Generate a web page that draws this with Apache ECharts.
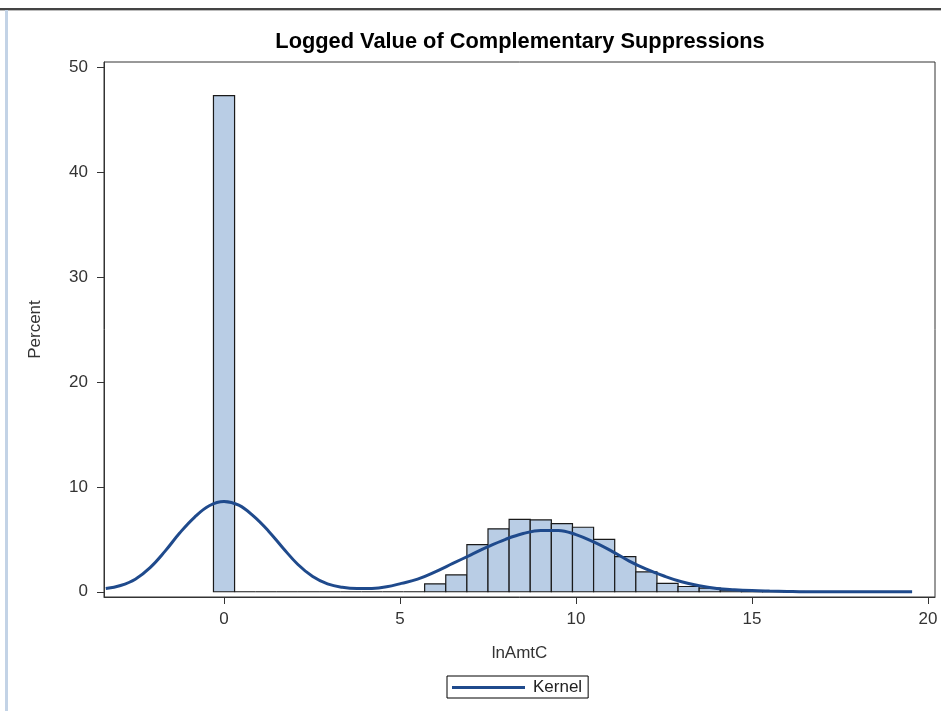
<!DOCTYPE html>
<html>
<head>
<meta charset="utf-8">
<script src="https://cdn.jsdelivr.net/npm/echarts@6/dist/echarts.min.js"></script>
<style>
html,body{margin:0;padding:0;background:#fff;}
#chart{width:941px;height:711px;}
</style>
</head>
<body>
<div id="chart"></div>
<script>
// ---- data ----
const titleText = 'Logged Value of Complementary Suppressions';
const xAxisName = 'lnAmtC';
const yAxisName = 'Percent';
const binWidth = 0.6;
const binCenters = [0, 0.6, 1.2, 1.8, 2.4, 3.0, 3.6, 4.2, 4.8, 5.4, 6.0, 6.6, 7.2, 7.8, 8.4, 9.0, 9.6, 10.2, 10.8, 11.4, 12.0, 12.6, 13.2, 13.8, 14.4, 15.0, 15.6, 16.2, 16.8, 17.4, 18.0, 18.6, 19.2];
const binPercents = [47.3, 0, 0, 0, 0, 0, 0, 0, 0, 0, 0.76, 1.6, 4.5, 6.0, 6.9, 6.85, 6.5, 6.15, 5.0, 3.35, 1.9, 0.8, 0.5, 0.35, 0.15, 0.08, 0.05, 0.02, 0, 0, 0, 0, 0];
const kernelX = [-3.36, -2.94, -2.52, -2.10, -1.68, -1.26, -0.84, -0.42, 0, 0.42, 0.84, 1.26, 1.68, 2.10, 2.52, 2.94, 3.36, 3.78, 4.2, 4.62, 5.04, 5.5, 6.0, 6.5, 7.0, 7.5, 8.0, 8.5, 9.0, 9.5, 10.0, 10.5, 11.0, 11.5, 12.0, 12.5, 13.0, 13.5, 14.0, 14.5, 15.0, 15.5, 16.0, 16.5, 17.0, 18.0, 19.55];
const kernelY = [0.3, 0.6, 1.2, 2.3, 3.85, 5.6, 7.1, 8.2, 8.6, 8.25, 7.2, 5.8, 4.15, 2.6, 1.45, 0.75, 0.42, 0.3, 0.32, 0.48, 0.8, 1.2, 1.9, 2.7, 3.5, 4.3, 5.0, 5.55, 5.85, 5.85, 5.45, 4.75, 3.9, 2.95, 2.15, 1.5, 0.95, 0.57, 0.32, 0.2, 0.12, 0.07, 0.03, 0.0, 0.0, 0.0, 0.0];
const xTicks = [0, 5, 10, 15, 20];
const yTicks = [0, 10, 20, 30, 40, 50];
const legendName = 'Kernel';

// ---- chart ----
const chart = echarts.init(document.getElementById('chart'), null, {renderer: 'canvas'});
const font = '"Liberation Sans", Arial, sans-serif';
const histData = binCenters.map((c, i) => [c, binPercents[i]]);
const kernelData = kernelX.map((x, i) => [x, kernelY[i]]);

chart.setOption({
  backgroundColor: '#fff',
  animation: false,
  title: {
    text: titleText,
    left: 515,
    top: 26,
    textAlign: 'center',
    textStyle: {fontFamily: font, fontWeight: 'bold', fontSize: 21.8, color: '#000'}
  },
  grid: {left: 104, right: 6, top: 62, bottom: 114, show: true, borderColor: '#333', borderWidth: 1, containLabel: false},
  legend: {
    data: [{name: legendName, icon: 'rect'}],
    left: 447, top: 676,
    itemWidth: 73, itemHeight: 3,
    borderColor: '#000', borderWidth: 1,
    padding: [3, 6, 2, 5],
    textStyle: {fontFamily: font, fontSize: 17, color: '#222', padding: [0, 0, 0, 3]}
  },
  xAxis: {
    type: 'value', min: -3.41, max: 20.2,
    name: xAxisName, nameLocation: 'middle', nameGap: 48,
    nameTextStyle: {fontFamily: font, fontSize: 17, color: '#333'},
    axisLine: {show: true, onZero: false, lineStyle: {color: '#333', width: 1}},
    axisTick: {show: true, length: 7, customValues: xTicks, lineStyle: {color: '#333'}},
    axisLabel: {customValues: xTicks, margin: 14, fontFamily: font, fontSize: 17, color: '#333'},
    splitLine: {show: false}
  },
  yAxis: {
    type: 'value', min: -0.5, max: 50.5,
    name: yAxisName, nameLocation: 'middle', nameGap: 60, nameRotate: 90,
    nameTextStyle: {fontFamily: font, fontSize: 17, color: '#333'},
    axisLine: {show: true, onZero: false, lineStyle: {color: '#333', width: 1}},
    axisTick: {show: true, length: 7, customValues: yTicks, lineStyle: {color: '#333'}},
    axisLabel: {customValues: yTicks, margin: 16, fontFamily: font, fontSize: 17, color: '#333'},
    splitLine: {show: false}
  },
  series: [
    {
      type: 'custom',
      name: 'Histogram',
      data: histData,
      z: 2,
      renderItem: function (params, api) {
        const c = api.value(0), v = api.value(1);
        const p1 = api.coord([c - binWidth / 2, v]);
        const p2 = api.coord([c + binWidth / 2, 0]);
        return {
          type: 'rect',
          shape: {x: p1[0], y: p1[1], width: p2[0] - p1[0], height: p2[1] - p1[1]},
          style: {fill: '#b9cde5', stroke: '#1a1a1a', lineWidth: 1.2}
        };
      }
    },
    {
      type: 'line',
      name: legendName,
      data: kernelData,
      smooth: 0.4,
      showSymbol: false,
      z: 3,
      lineStyle: {color: '#1f4a8c', width: 3},
      itemStyle: {color: '#1f4a8c'}
    }
  ],
  graphic: [
    {type: 'rect', shape: {x: 0, y: 8, width: 941, height: 2}, style: {fill: '#444'}, silent: true},
    {type: 'rect', shape: {x: 0, y: 10, width: 941, height: 1}, style: {fill: '#bbb'}, silent: true},
    {type: 'rect', shape: {x: 5, y: 10, width: 3, height: 701}, style: {fill: '#c3d3e6'}, silent: true}
  ]
});
</script>
</body>
</html>
